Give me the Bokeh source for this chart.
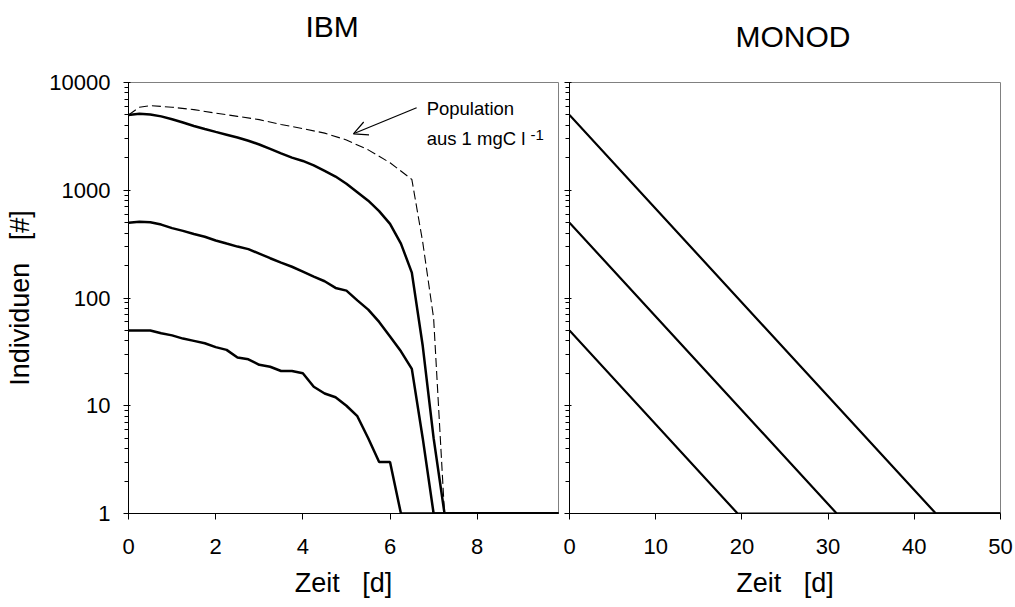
from bokeh.plotting import figure
from bokeh.layouts import row
from bokeh.models import FixedTicker, CustomJSTickFormatter, Label, Arrow, OpenHead, Title
from bokeh.embed import file_html
from bokeh.resources import INLINE

# ---------------- data ----------------
# IBM panel (time in days, individuals)
ibm_t5000 = [0, 0.25, 0.5, 0.75, 1.0, 1.25, 1.5, 1.75, 2.0, 2.25, 2.5, 2.75, 3.0, 3.25, 3.5,
             3.75, 4.0, 4.25, 4.5, 4.75, 5.0, 5.25, 5.5, 5.75, 6.0, 6.25, 6.5, 6.75, 7.0, 7.25, 10]
ibm_n5000 = [5000, 5120, 5050, 4850, 4560, 4250, 3950, 3700, 3480, 3280, 3090, 2880, 2660, 2425, 2200,
             2010, 1870, 1700, 1510, 1340, 1150, 960, 800, 640, 488, 320, 172, 36, 5, 1, 1]

ibm_t500 = [0, 0.25, 0.5, 0.75, 1.0, 1.25, 1.5, 1.75, 2.0, 2.25, 2.5, 2.75, 3.0, 3.25, 3.5,
            3.75, 4.0, 4.25, 4.5, 4.75, 5.0, 5.25, 5.5, 5.75, 6.0, 6.25, 6.5, 6.75, 7.0, 10]
ibm_n500 = [500, 510, 505, 480, 445, 420, 392, 370, 342, 320, 300, 284, 258, 234, 213,
            195, 176, 158, 143, 124, 117, 95, 78, 60, 44, 32, 22, 5, 1, 1]

ibm_t50 = [0, 0.25, 0.5, 0.75, 1.0, 1.25, 1.5, 1.75, 2.0, 2.25, 2.5, 2.75, 3.0, 3.25, 3.5,
           3.75, 4.0, 4.25, 4.5, 4.75, 5.0, 5.25, 5.5, 5.75, 6.0, 6.25, 10]
ibm_n50 = [50, 50, 50, 47, 45, 42, 40, 38, 35, 33, 28, 27, 24, 23, 21,
           21, 20, 15, 13, 12, 10, 8, 5, 3, 3, 1, 1]

# population grown from 1 mgC/l (dashed)
pop_t = [0, 0.25, 0.5, 1.0, 1.5, 2.0, 2.5, 3.0, 3.5, 4.0, 4.5, 5.0, 5.5, 6.0, 6.5, 6.75, 7.0, 7.25]
pop_n = [5000, 5900, 6100, 5900, 5600, 5200, 4850, 4520, 4080, 3730, 3390, 2930, 2370, 1800, 1260, 330, 65, 1]

# MONOD panel
monod_t5000 = [0, 42.5, 50]
monod_n5000 = [5000, 1, 1]
monod_t500 = [0, 31.0, 50]
monod_n500 = [500, 1, 1]
monod_t50 = [0, 19.5, 50]
monod_n50 = [50, 1, 1]

y_ticks = [1, 10, 100, 1000, 10000]
x_ticks_ibm = [0, 2, 4, 6, 8]
x_ticks_monod = [0, 10, 20, 30, 40, 50]

# ---------------- style ----------------
FONT = "Liberation Sans"
H = 606
TOP = 82
FRAME_H = 431
minor = [m * d for d in (1, 10, 100, 1000) for m in range(2, 10)]


def style(p, show_ylabels, xticks, title_text, title_offset, title_gap):
    p.outline_line_color = "#808080"
    p.outline_line_width = 1
    p.xgrid.visible = False
    p.ygrid.visible = False
    p.background_fill_color = "white"
    p.border_fill_color = "white"
    xa = p.below[0]
    ya = p.left[0]
    for ax in (xa, ya):
        ax.axis_line_color = "black"
        ax.axis_line_width = 1
        ax.major_tick_line_color = "black"
        ax.minor_tick_line_color = "black"
        ax.major_label_text_color = "black"
        ax.major_label_text_font = FONT
        ax.major_label_text_font_size = "22px"
        ax.axis_label_text_color = "black"
        ax.axis_label_text_font = FONT
        ax.axis_label_text_font_size = "27px"
        ax.axis_label_text_font_style = "normal"
    xa.ticker = FixedTicker(ticks=xticks)
    xa.formatter = CustomJSTickFormatter(code="return tick.toFixed(0);")
    xa.major_tick_out = 6
    xa.major_tick_in = 0
    xa.minor_tick_out = 0
    xa.minor_tick_in = 0
    xa.major_label_standoff = 19
    xa.axis_label = "Zeit\u00a0\u00a0\u00a0[d]"
    xa.axis_label_standoff = 11
    ya.ticker = FixedTicker(ticks=y_ticks, minor_ticks=minor)
    ya.major_tick_out = 5
    ya.major_tick_in = 2
    ya.minor_tick_out = 4
    ya.minor_tick_in = 0
    if show_ylabels:
        ya.formatter = CustomJSTickFormatter(code="return tick.toFixed(0);")
        ya.major_label_standoff = 13
        ya.axis_label = "Individuen\u00a0\u00a0\u00a0[#]"
        ya.axis_label_standoff = 11
    else:
        ya.formatter = CustomJSTickFormatter(code="return '';")
        ya.major_label_standoff = 0
    # invisible spacer (nearest the frame), then the panel title further out
    p.add_layout(Title(text=" ", text_font_size="1px", standoff=title_gap), "above")
    p.add_layout(Title(text=title_text, text_font=FONT, text_font_size="30px",
                       text_font_style="normal", text_color="black", align="left",
                       offset=title_offset, standoff=0, vertical_align="bottom"), "above")


# ---------------- IBM panel ----------------
p1 = figure(width=563, height=H, x_range=(0, 9.865), y_range=(1, 10000), y_axis_type="log",
            output_backend="svg", toolbar_location=None,
            min_border_left=128, min_border_right=5, min_border_top=TOP,
            min_border_bottom=H - TOP - FRAME_H)
style(p1, True, x_ticks_ibm, "IBM", 177, 37)

p1.line(pop_t, pop_n, line_color="black", line_width=1.1, line_dash="9 4")
p1.line(ibm_t5000, ibm_n5000, line_color="black", line_width=2.5)
p1.line(ibm_t500, ibm_n500, line_color="black", line_width=2.5)
p1.line(ibm_t50, ibm_n50, line_color="black", line_width=2.5)

p1.add_layout(Arrow(end=OpenHead(size=14, line_width=1.2, line_color="black"),
                    x_start=6.61, y_start=5823, x_end=5.16, y_end=3342,
                    line_width=1.2, line_color="black"))
p1.add_layout(Label(x=6.84, y=5735, text="Population", text_font=FONT, text_font_size="18.5px",
                    text_color="black", text_baseline="alphabetic"))
p1.add_layout(Label(x=6.84, y=3020, text="aus 1 mgC l", text_font=FONT, text_font_size="18.5px",
                    text_color="black", text_baseline="alphabetic"))
p1.add_layout(Label(x=9.22, y=3240, text="-1", text_font=FONT, text_font_size="15px",
                    text_color="black", text_baseline="alphabetic"))

# ---------------- MONOD panel ----------------
p2 = figure(width=451, height=H, x_range=(0, 50), y_range=(1, 10000), y_axis_type="log",
            output_backend="svg", toolbar_location=None,
            min_border_left=6, min_border_right=14, min_border_top=TOP,
            min_border_bottom=H - TOP - FRAME_H)
style(p2, False, x_ticks_monod, "MONOD", 166, 27)

p2.line(monod_t5000, monod_n5000, line_color="black", line_width=2.2)
p2.line(monod_t500, monod_n500, line_color="black", line_width=2.2)
p2.line(monod_t50, monod_n50, line_color="black", line_width=2.2)

layout = row(p1, p2)
open("out.html", "w").write(file_html(layout, INLINE))
